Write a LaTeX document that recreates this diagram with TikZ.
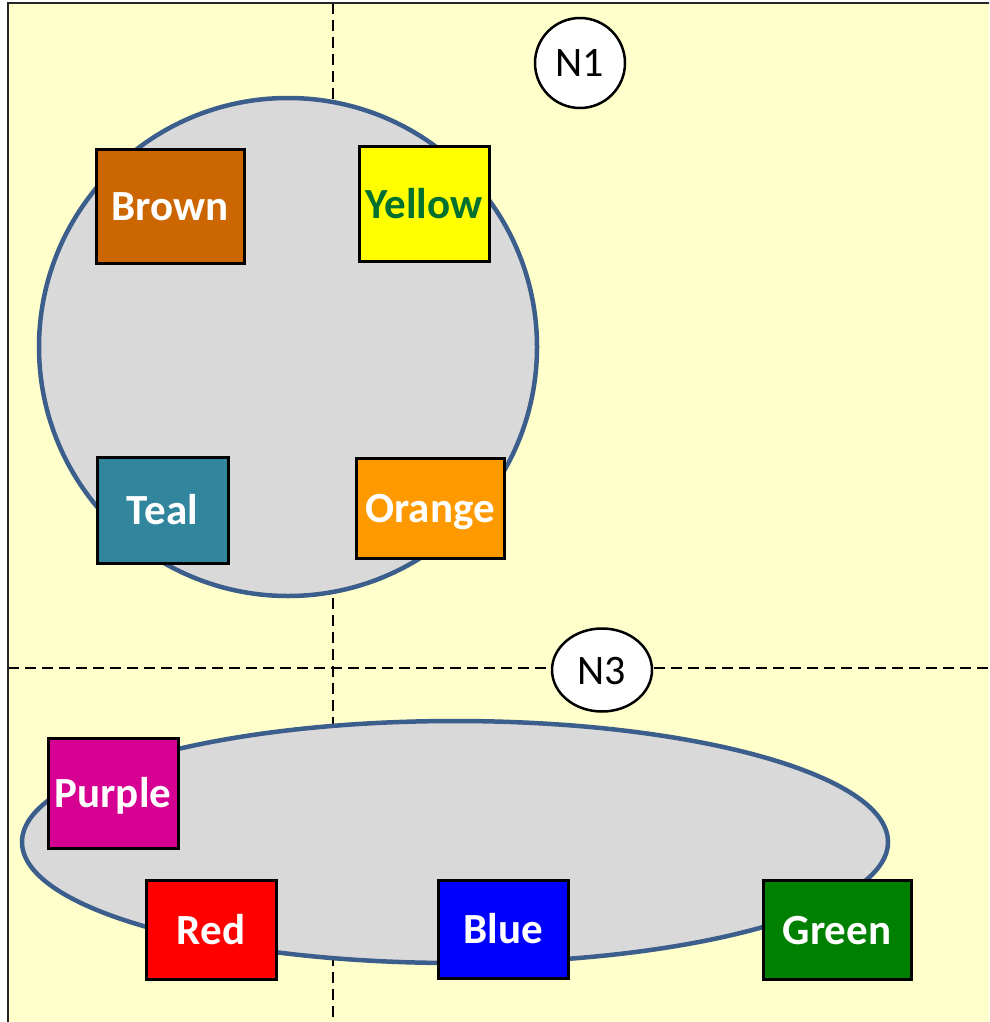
\documentclass[tikz,border=0pt]{standalone}
\usepackage{fontspec}
\setmainfont{Carlito}
\usetikzlibrary{shapes.geometric}
\definecolor{bgyellow}{RGB}{255,255,204}
\definecolor{grpfill}{RGB}{217,217,217}
\definecolor{grpline}{RGB}{59,94,140}
\definecolor{cbrown}{RGB}{204,102,0}
\definecolor{cyellow}{RGB}{255,255,0}
\definecolor{ctext}{RGB}{0,112,48}
\definecolor{cteal}{RGB}{49,133,156}
\definecolor{corange}{RGB}{255,153,0}
\definecolor{cpurple}{RGB}{214,0,147}
\definecolor{cred}{RGB}{255,0,0}
\definecolor{cblue}{RGB}{0,0,255}
\definecolor{cgreen}{RGB}{0,128,0}
\tikzset{
  colbox/.style={rectangle, draw=black, line width=3pt, inner sep=0pt,
    text height=29pt, text depth=0pt,
    text=white, font=\fontsize{43}{43}\selectfont\bfseries},
  grp/.style={draw=grpline, fill=grpfill, line width=4.5pt, inner sep=0pt},
  tag/.style={draw=black, fill=white, line width=2.5pt, inner sep=0pt,
    text height=28pt, text depth=0pt,
    font=\fontsize{42}{42}\selectfont},
  divider/.style={draw=black, line width=2.5pt, dash pattern=on 11pt off 6pt}
}
\begin{document}
\begin{tikzpicture}[x=1pt,y=-1pt]
\useasboundingbox (0,0) rectangle (989,1022);
\clip (0,0) rectangle (989,1022);
\fill[white] (0,0) rectangle (989,1022);
\fill[bgyellow] (8,3) rectangle (1010,1040);
% dividers
\coordinate (vt) at (333,3);
\coordinate (vb) at (333,1022);
\coordinate (hl) at (8,668);
\coordinate (hr) at (989,668);
\draw[divider] (vt) -- (vb);
\draw[divider] (hl) -- (hr);
% groups
\node[grp, circle, minimum size=498pt] (g1) at (288,347) {};
\node[grp, ellipse, minimum width=866pt, minimum height=242pt] (g3) at (455,842) {};
% boxes
\node[colbox, fill=cbrown, minimum width=148pt, minimum height=114pt] (brown) at (170,206) {Brown};
\node[colbox, fill=cyellow, text=ctext, minimum width=130pt, minimum height=115pt] (yellow) at (424,203.5) {Yellow};
\node[colbox, fill=cteal, minimum width=131pt, minimum height=106pt] (teal) at (162.5,510) {Teal};
\node[colbox, fill=corange, minimum width=148pt, minimum height=100pt] (orange) at (430,508) {Orange};
\node[colbox, fill=cpurple, minimum width=130pt, minimum height=110pt] (purple) at (113,793) {Purple};
\node[colbox, fill=cred, minimum width=130pt, minimum height=99pt] (red) at (211,929.5) {Red};
\node[colbox, fill=cblue, minimum width=130pt, minimum height=98pt] (blue) at (503,929) {Blue};
\node[colbox, fill=cgreen, minimum width=148pt, minimum height=99pt] (green) at (837,929.5) {Green};
% tags
\node[tag, circle, minimum size=90pt] (n1) at (580,63) {N1};
\node[tag, ellipse, minimum width=100pt, minimum height=83pt] (n3) at (602,670) {N3};
% frame
\draw[black!85, line width=2.5pt] (8,1030) -- (8,3) -- (1000,3);
\end{tikzpicture}
\end{document}
